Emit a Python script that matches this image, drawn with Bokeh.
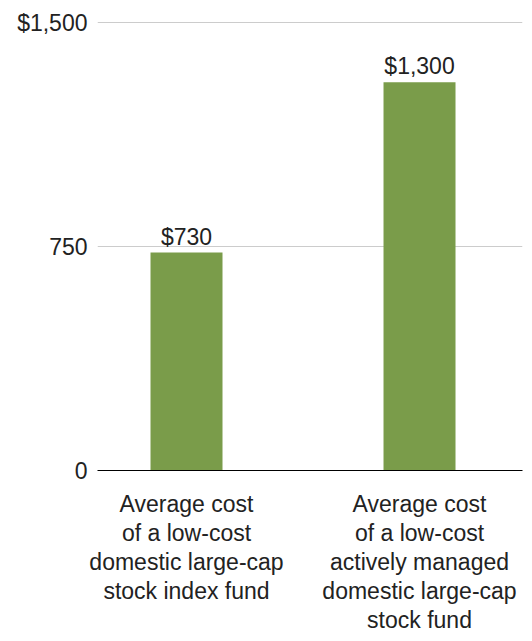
from bokeh.plotting import figure
from bokeh.models import ColumnDataSource, FixedTicker
from bokeh.core.properties import value
from bokeh.embed import file_html
from bokeh.resources import INLINE

categories = [
    "Average cost\nof a low-cost\ndomestic large-cap\nstock index fund",
    "Average cost\nof a low-cost\nactively managed\ndomestic large-cap\nstock fund",
]
costs = [730, 1300]
y_ticks = [0, 750, 1500]
y_tick_labels = ["0", "750", "$1,500"]

FONT = "Liberation Sans"
TXT = "#222222"
GREEN = "#7a9c4a"

xs = list(range(len(categories)))
src = ColumnDataSource(dict(
    x=xs,
    top=costs,
    label=["${:,}".format(v) for v in costs],
))

p = figure(width=532, height=641, output_backend="svg", toolbar_location=None,
           x_range=(-0.382, 1.442), y_range=(0, 1507),
           min_border_left=97, min_border_right=10,
           min_border_top=20, min_border_bottom=171)
p.outline_line_color = None
p.background_fill_color = "white"
p.border_fill_color = "white"

p.vbar(x="x", top="top", width=0.309, bottom=0, source=src,
       fill_color=GREEN, line_color=None)

p.text(x="x", y="top", text="label", source=src, y_offset=-3,
       text_align="center", text_baseline="bottom",
       text_font=value(FONT), text_font_size="23px", text_color=TXT)

# y axis
p.yaxis.ticker = FixedTicker(ticks=y_ticks)
p.yaxis.major_label_overrides = {t: l for t, l in zip(y_ticks, y_tick_labels)}
p.yaxis.axis_line_color = None
p.yaxis.major_tick_line_color = None
p.yaxis.major_tick_out = 0
p.yaxis.major_tick_in = 0
p.yaxis.minor_tick_line_color = None
p.yaxis.major_label_standoff = 10
p.yaxis.major_label_text_font = FONT
p.yaxis.major_label_text_font_size = "23px"
p.yaxis.major_label_text_color = TXT

# x axis
p.xaxis.ticker = FixedTicker(ticks=xs)
p.xaxis.major_label_overrides = {i: c for i, c in zip(xs, categories)}
p.xaxis.axis_line_color = "black"
p.xaxis.axis_line_width = 1.2
p.xaxis.major_tick_line_color = None
p.xaxis.major_tick_out = 0
p.xaxis.major_tick_in = 0
p.xaxis.minor_tick_line_color = None
p.xaxis.major_label_standoff = 20
p.xaxis.major_label_text_font = FONT
p.xaxis.major_label_text_font_size = "23px"
p.xaxis.major_label_text_color = TXT
p.xaxis.major_label_text_line_height = 1.12

p.xgrid.grid_line_color = None
p.ygrid.ticker = FixedTicker(ticks=y_ticks)
p.ygrid.grid_line_color = "#cccccc"
p.ygrid.grid_line_width = 1

open("out.html", "w").write(file_html(p, INLINE))
